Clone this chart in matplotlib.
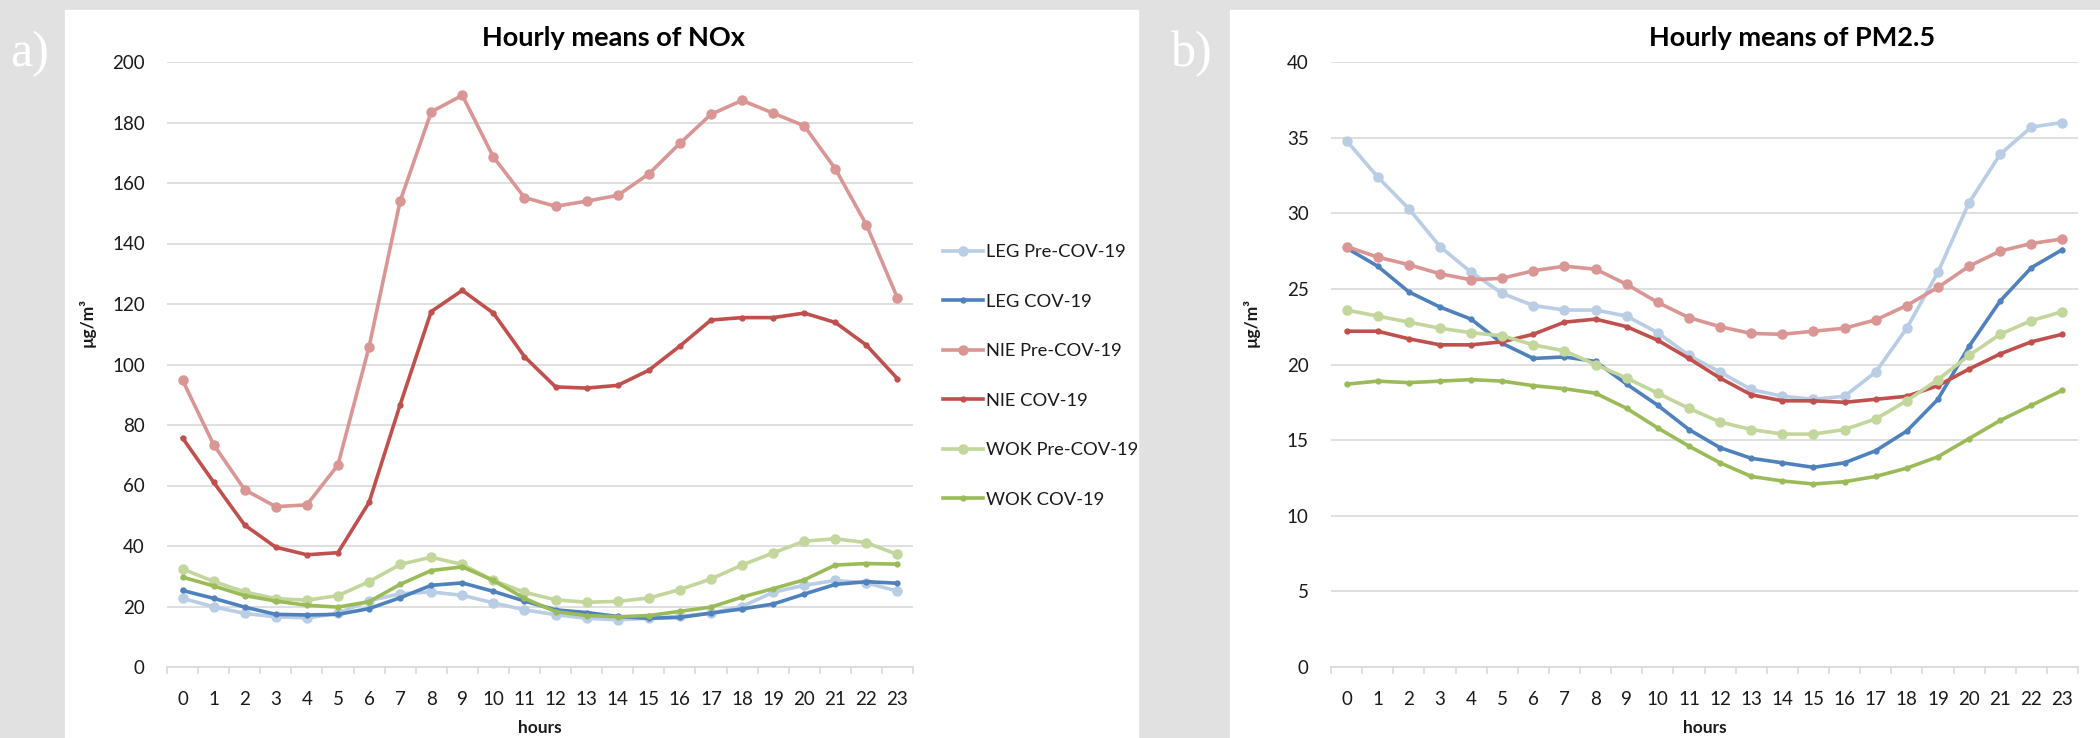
import numpy as np
import matplotlib
matplotlib.use('Agg')
import matplotlib.pyplot as plt
from matplotlib.patches import Rectangle

hours = list(range(24))
series_names = ['LEG Pre-COV-19', 'LEG COV-19', 'NIE Pre-COV-19',
                'NIE COV-19', 'WOK Pre-COV-19', 'WOK COV-19']

# NOx hourly means (µg/m³)
leg_pre_nox = [22.7, 19.9, 17.7, 16.6, 16.2, 17.8, 21.9, 24.2, 24.8, 23.7, 21.2, 18.9,
               17.3, 16.1, 15.6, 16.1, 16.7, 17.8, 20.0, 24.7, 27.0, 28.6, 27.8, 25.1]
leg_cov_nox = [25.3, 22.7, 19.8, 17.4, 17.2, 17.4, 19.3, 22.9, 27.0, 27.8, 25.0, 21.8,
               18.9, 18.0, 16.7, 16.1, 16.4, 17.8, 19.2, 20.8, 24.1, 27.3, 28.2, 27.7]
nie_pre_nox = [94.8, 73.5, 58.6, 53.0, 53.6, 66.8, 105.8, 154.0, 183.5, 189.0, 168.6, 155.2,
               152.3, 154.0, 155.9, 163.0, 173.1, 182.7, 187.3, 183.1, 178.9, 164.7, 146.2, 122.0]
nie_cov_nox = [75.7, 61.1, 46.9, 39.6, 37.1, 37.8, 54.4, 86.7, 117.5, 124.5, 117.0, 102.6,
               92.6, 92.2, 93.1, 98.1, 106.1, 114.7, 115.5, 115.5, 117.0, 113.9, 106.4, 95.3]
wok_pre_nox = [32.4, 28.3, 24.8, 22.6, 22.1, 23.6, 28.2, 33.9, 36.3, 33.9, 28.6, 24.7,
               22.2, 21.4, 21.7, 22.8, 25.6, 29.1, 33.7, 37.7, 41.6, 42.4, 41.1, 37.2]
wok_cov_nox = [29.7, 26.8, 23.6, 21.8, 20.4, 19.8, 21.6, 27.3, 31.9, 33.1, 28.6, 22.7,
               18.3, 17.0, 16.6, 17.0, 18.4, 19.8, 23.1, 25.9, 28.8, 33.7, 34.2, 34.0]

# PM2.5 hourly means (µg/m³)
leg_pre_pm = [34.8, 32.4, 30.3, 27.8, 26.1, 24.7, 23.9, 23.6, 23.6, 23.2, 22.1, 20.6,
              19.5, 18.35, 17.9, 17.7, 17.9, 19.5, 22.4, 26.1, 30.7, 33.9, 35.7, 36.0]
leg_cov_pm = [27.7, 26.5, 24.8, 23.8, 23.0, 21.4, 20.4, 20.5, 20.2, 18.7, 17.3, 15.7,
              14.5, 13.8, 13.5, 13.2, 13.5, 14.3, 15.6, 17.7, 21.2, 24.2, 26.4, 27.6]
nie_pre_pm = [27.8, 27.1, 26.6, 26.0, 25.6, 25.7, 26.2, 26.5, 26.3, 25.3, 24.1, 23.1,
              22.5, 22.05, 22.0, 22.2, 22.4, 22.95, 23.9, 25.1, 26.5, 27.5, 28.0, 28.3]
nie_cov_pm = [22.2, 22.2, 21.7, 21.3, 21.3, 21.5, 22.0, 22.8, 23.0, 22.5, 21.6, 20.4,
              19.1, 18.0, 17.6, 17.6, 17.5, 17.7, 17.9, 18.6, 19.7, 20.7, 21.5, 22.0]
wok_pre_pm = [23.6, 23.2, 22.8, 22.4, 22.1, 21.9, 21.3, 20.9, 20.0, 19.1, 18.1, 17.1,
              16.2, 15.7, 15.4, 15.4, 15.7, 16.4, 17.6, 19.0, 20.6, 22.0, 22.9, 23.5]
wok_cov_pm = [18.7, 18.9, 18.8, 18.9, 19.0, 18.9, 18.6, 18.4, 18.1, 17.1, 15.8, 14.6,
              13.5, 12.6, 12.3, 12.1, 12.25, 12.6, 13.15, 13.9, 15.1, 16.3, 17.3, 18.3]

colors = ['#B9CDE5', '#4F81BD', '#D99694', '#C0504D', '#C3D69B', '#9BBB59']
GRID = '#D9D9D9'
TEXT = '#1A1A1A'
FONT = 'Lato'

W, H = 2100, 738


def px_x(x):
    return x / W


def px_y(y):
    return 1 - y / H


def draw_panel(ax, data, ymax, ystep):
    for i, values in enumerate(data):
        pre = i % 2 == 0
        ax.plot(hours, values, color=colors[i], lw=2.6, marker='o',
                ms=6.5 if pre else 3.5, label=series_names[i], zorder=3 + i)

    ax.set_xlim(-0.5, 23.5)
    ax.set_ylim(0, ymax)
    ax.set_yticks(np.arange(0, ymax + 0.1, ystep))
    ax.set_xticks(hours)
    ax.set_xticks(np.arange(-0.5, 24, 1), minor=True)
    ax.grid(axis='y', color=GRID, lw=1.2, zorder=0)
    ax.set_axisbelow(True)

    for side in ['top', 'right', 'left']:
        ax.spines[side].set_visible(False)
    ax.spines['bottom'].set_color(GRID)
    ax.spines['bottom'].set_linewidth(1.2)

    ax.tick_params(axis='y', length=0, pad=16, labelsize=13.5, labelcolor=TEXT)
    ax.tick_params(axis='x', which='major', length=0, pad=17, labelsize=13.5, labelcolor=TEXT)
    ax.tick_params(axis='x', which='minor', length=5, width=1.2, color=GRID)
    for lbl in ax.get_xticklabels() + ax.get_yticklabels():
        lbl.set_family(FONT)

    ax.set_xlabel('hours', fontsize=12.5, fontweight='bold', family=FONT,
                  color=TEXT, labelpad=9)
    ax.set_ylabel('µg/m³', fontsize=12.5, fontweight='bold', family=FONT,
                  color=TEXT, va='center')
    ax.yaxis.set_label_coords(-0.107, 0.57)


fig = plt.figure(figsize=(W / 100, H / 100), dpi=100)
fig.patch.set_facecolor('#E1E1E1')

# white chart backgrounds
fig.add_artist(Rectangle((px_x(65), 0), px_x(1138 - 65), 1 - 10 / H,
                         transform=fig.transFigure, color='white', zorder=0))
fig.add_artist(Rectangle((px_x(1230), 0), px_x(2100 - 1230), 1 - 10 / H,
                         transform=fig.transFigure, color='white', zorder=0))

ax_bottom = px_y(667)
ax_height = px_y(62) - ax_bottom
ax1 = fig.add_axes([px_x(167), ax_bottom, px_x(913 - 167), ax_height])
ax2 = fig.add_axes([px_x(1331), ax_bottom, px_x(2078 - 1331), ax_height])
ax1.patch.set_alpha(0)
ax2.patch.set_alpha(0)

draw_panel(ax1, [leg_pre_nox, leg_cov_nox, nie_pre_nox, nie_cov_nox, wok_pre_nox, wok_cov_nox], 200, 20)
draw_panel(ax2, [leg_pre_pm, leg_cov_pm, nie_pre_pm, nie_cov_pm, wok_pre_pm, wok_cov_pm], 40, 5)

fig.text(px_x(613), px_y(38), 'Hourly means of NOx', ha='center', va='center',
         fontsize=19.5, fontweight='bold', family=FONT, color='black')
fig.text(px_x(1792), px_y(38), 'Hourly means of PM2.5', ha='center', va='center',
         fontsize=19.5, fontweight='bold', family=FONT, color='black')

fig.text(px_x(30), px_y(54), 'a)', ha='center', va='center', fontsize=36,
         family='Liberation Serif', color='white')
fig.text(px_x(1192), px_y(54), 'b)', ha='center', va='center', fontsize=36,
         family='Liberation Serif', color='white')

handles, labels = ax1.get_legend_handles_labels()
fig.legend(handles, labels, loc='center left', bbox_to_anchor=(px_x(943), px_y(376)),
           frameon=False, borderpad=0, borderaxespad=0, handlelength=2.2,
           handletextpad=0.15, labelspacing=1.83, prop={'family': FONT, 'size': 13.2},
           labelcolor=TEXT)

fig.savefig('out.png', dpi=100, facecolor=fig.get_facecolor())
